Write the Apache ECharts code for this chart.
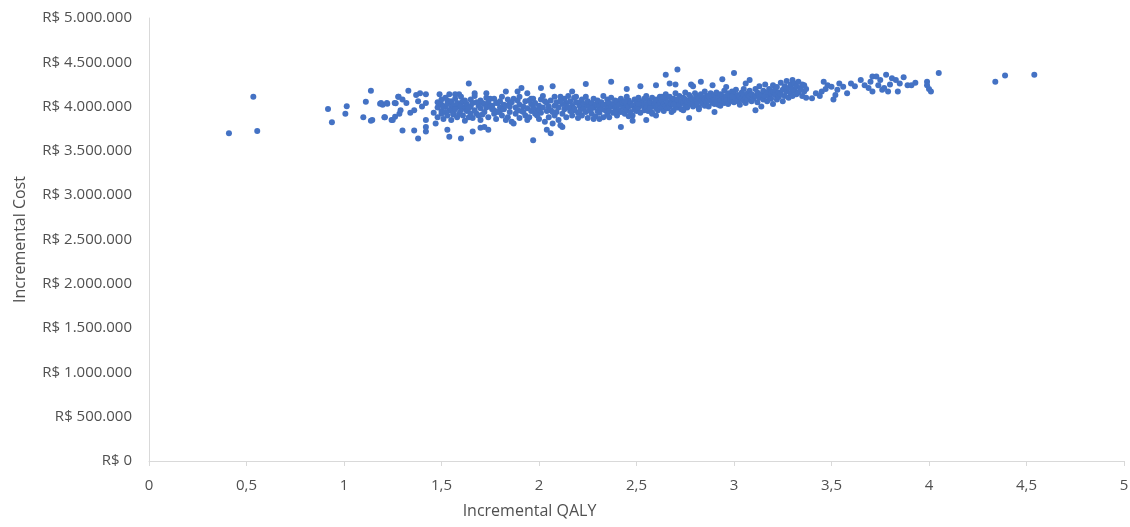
<!DOCTYPE html>
<html>
<head>
<meta charset="utf-8">
<script src="https://cdn.jsdelivr.net/npm/echarts@6/dist/echarts.min.js"></script>
<style>
  html, body { margin: 0; padding: 0; background: #fff; }
  #chart { width: 1130px; height: 527px; }
</style>
</head>
<body>
<div id="chart"></div>
<script>
// x ticks (QALY) and y ticks (R$)
const qalyTicks = [0, 0.5, 1, 1.5, 2, 2.5, 3, 3.5, 4, 4.5, 5]
const costTicks = [0, 500000, 1000000, 1500000, 2000000, 2500000, 3000000, 3500000, 4000000, 4500000, 5000000]

// simulations: [incremental QALY, incremental cost in R$ thousands]
const lowQalyRuns = [
  [0.41, 3699], [0.535, 4112], [0.555, 3725], [0.918, 3973], [0.938, 3823], [1.014, 4003], [1.007, 3920],
  [1.138, 4180], [1.112, 4055], [1.185, 4033], [1.198, 4020], [1.222, 4033], [1.099, 3880], [1.138, 3840],
  [1.145, 3850], [1.207, 3880], [1.244, 3850], [1.265, 4037], [1.262, 3886], [1.278, 4110], [1.284, 3920],
  [1.19, 4040], [1.22, 4040], [1.21, 3880], [1.26, 4040], [1.28, 4110], [1.29, 3960], [1.30, 4080],
  [1.33, 4180], [1.32, 4040], [1.34, 3930], [1.36, 3960], [1.37, 4130], [1.38, 4060], [1.39, 4150],
  [1.40, 4000], [1.42, 4040], [1.42, 4140], [1.42, 3850], [1.25, 3850], [1.30, 3730], [1.36, 3730],
  [1.38, 3640], [1.42, 3770], [1.42, 3720], [1.46, 3930], [1.47, 3810], [1.49, 4140], [1.49, 4020],
  [1.50, 3920], [1.52, 4000], [1.53, 4070], [1.54, 4140], [1.54, 3960], [1.55, 4040], [1.56, 3910],
  [1.58, 4000], [1.59, 4140], [1.60, 4040], [1.60, 3640], [1.54, 3660], [1.53, 3740], [1.64, 4260],
  [1.66, 3720], [1.67, 4150], [1.68, 3920], [1.70, 3760], [1.72, 3770], [1.74, 3740], [1.71, 4040],
  [1.75, 4090], [1.77, 3960], [1.79, 4040], [1.83, 4170], [1.85, 4040], [1.87, 3810], [1.89, 4170],
  [1.91, 4210], [1.94, 4150], [1.96, 4090], [1.97, 3620], [1.99, 3960], [2.01, 4210], [2.04, 3740],
  [2.06, 3700], [2.07, 4230], [2.07, 3810], [2.11, 4110], [2.12, 3770], [2.14, 4040], [2.17, 4170],
  [2.18, 3960], [2.19, 4110]
]

const midQalyRuns = [
  [1.48, 3990], [1.48, 4050], [1.48, 3880], [1.50, 4020], [1.50, 3950], [1.50, 4080], [1.51, 3860], [1.51, 4000],
  [1.52, 3940], [1.52, 4100], [1.53, 4030], [1.53, 3900], [1.55, 3980], [1.55, 4060], [1.55, 3850], [1.56, 4010],
  [1.56, 3930], [1.57, 4090], [1.57, 3970], [1.58, 3880], [1.58, 4040], [1.60, 3960], [1.60, 4010], [1.60, 4110],
  [1.61, 3900], [1.61, 4060], [1.62, 3990], [1.62, 3840], [1.63, 4030], [1.63, 3950], [1.65, 4080], [1.65, 3920],
  [1.65, 4000], [1.66, 3870], [1.66, 4040], [1.67, 3960], [1.67, 4120], [1.69, 4010], [1.69, 3900], [1.70, 3980],
  [1.70, 4070], [1.70, 3850], [1.72, 4030], [1.72, 3940], [1.73, 3990], [1.73, 4100], [1.74, 3880], [1.74, 4050],
  [1.76, 3970], [1.76, 4010], [1.77, 3920], [1.77, 4090], [1.78, 4040], [1.78, 3860], [1.80, 3990], [1.80, 3950],
  [1.80, 4060], [1.81, 4110], [1.81, 3900], [1.82, 4020], [1.82, 3970], [1.84, 3880], [1.84, 4080], [1.85, 3940],
  [1.85, 4000], [1.86, 4050], [1.86, 3830], [1.88, 3990], [1.88, 3920], [1.89, 4070], [1.89, 3960], [1.90, 4020],
  [1.90, 3870], [1.90, 4110], [1.92, 3940], [1.92, 4000], [1.93, 4060], [1.93, 3900], [1.94, 3980], [1.94, 3850],
  [1.96, 4030], [1.96, 3950], [1.97, 4090], [1.97, 3990], [1.98, 3920], [1.98, 4040], [2.00, 3970], [2.00, 4010],
  [2.00, 3860], [2.01, 4080], [2.01, 3930], [2.02, 3990], [2.02, 4120], [2.04, 3950], [2.04, 4040], [2.05, 3880],
  [2.05, 4000], [2.06, 4070], [2.06, 3960], [2.08, 4010], [2.08, 3900], [2.08, 4110], [2.09, 3940], [2.09, 4050],
  [2.10, 3990], [2.10, 3850], [2.12, 4030], [2.12, 3920], [2.13, 4090], [2.13, 3970], [2.14, 3880], [2.14, 4000],
  [2.16, 4060], [2.16, 3950], [2.17, 4010], [2.17, 3900], [2.18, 3980], [2.18, 4100], [2.20, 4040], [2.20, 3930],
  [2.20, 3870],
  [1.59, 3920], [1.62, 4070], [1.64, 3980], [1.68, 4050], [1.71, 3910], [1.75, 4000], [1.79, 3940], [1.83, 4010],
  [1.87, 4090], [1.91, 3950], [1.95, 4070], [1.99, 3900], [2.03, 4060], [2.07, 3940], [2.11, 4060], [2.15, 3990],
  [2.19, 4050], [1.64, 3880], [1.73, 4150], [1.83, 3850], [1.95, 3880], [2.03, 3830], [2.15, 4120], [1.57, 4140],
  [2.21, 3950], [2.21, 4050], [2.21, 4000], [2.22, 3900], [2.22, 4080], [2.23, 3980], [2.23, 4030], [2.24, 4110],
  [2.24, 3940], [2.25, 4010], [2.25, 3870], [2.25, 4060], [2.26, 3960], [2.26, 4000], [2.27, 4040], [2.27, 3920],
  [2.28, 4090], [2.28, 3990], [2.29, 3890], [2.29, 4020], [2.30, 3950], [2.30, 4070], [2.30, 4010], [2.31, 4000],
  [2.31, 3930], [2.32, 4050], [2.32, 3970], [2.33, 3880], [2.33, 4120], [2.34, 4020], [2.34, 3960], [2.35, 3990],
  [2.35, 4080], [2.35, 3910], [2.36, 4040], [2.36, 3950], [2.37, 4000], [2.37, 4100], [2.38, 3930], [2.38, 4030],
  [2.39, 4070], [2.39, 3980], [2.40, 4010], [2.40, 3900], [2.40, 4060], [2.41, 3960], [2.41, 4020], [2.42, 4090],
  [2.42, 3940], [2.43, 4000], [2.43, 4050], [2.44, 3920], [2.44, 3980], [2.45, 4030], [2.45, 4110], [2.45, 3960],
  [2.46, 4070], [2.46, 4000], [2.47, 3940], [2.47, 4040], [2.48, 4010], [2.48, 3900], [2.49, 4080], [2.49, 3970],
  [2.50, 4020], [2.50, 4050], [2.50, 3950], [2.51, 3990], [2.51, 4100], [2.52, 4060], [2.52, 3930], [2.53, 4010],
  [2.53, 4040], [2.54, 3960], [2.54, 4090], [2.55, 4030], [2.55, 3990], [2.55, 4120], [2.56, 4070], [2.56, 3950],
  [2.57, 4000], [2.57, 4050], [2.58, 3930], [2.58, 4100], [2.59, 4040], [2.59, 4010], [2.60, 3980], [2.60, 4080],
  [2.60, 4060], [2.61, 4020], [2.61, 3960], [2.62, 4110], [2.62, 4040], [2.63, 3990], [2.63, 4070], [2.64, 4030],
  [2.64, 3950], [2.65, 4090], [2.65, 4010], [2.65, 4140], [2.66, 4050], [2.66, 3980], [2.67, 4000], [2.67, 4110],
  [2.68, 4070], [2.68, 4030], [2.69, 3960], [2.69, 4090], [2.70, 4040], [2.70, 4010], [2.70, 4150], [2.71, 4080],
  [2.71, 3990], [2.72, 4020], [2.72, 4120], [2.73, 4060], [2.73, 3970], [2.74, 4100], [2.74, 4040], [2.75, 4010],
  [2.75, 4080], [2.75, 4160], [2.76, 4050], [2.76, 3990], [2.77, 4130], [2.77, 4070], [2.78, 4030], [2.78, 4100],
  [2.79, 4080], [2.79, 4000], [2.80, 4050], [2.80, 4150], [2.80, 4020], [2.81, 4110], [2.81, 4070], [2.82, 3990],
  [2.82, 4090], [2.83, 4060], [2.83, 4140], [2.84, 4030], [2.84, 4100], [2.85, 4080], [2.85, 4170], [2.85, 4010],
  [2.86, 4120], [2.86, 4050], [2.87, 4070], [2.87, 4000], [2.88, 4150], [2.88, 4090], [2.89, 4040], [2.89, 4110],
  [2.90, 4080], [2.90, 4130], [2.90, 4030], [2.91, 4160], [2.91, 4060], [2.92, 4100], [2.92, 4020], [2.93, 4070],
  [2.93, 4140], [2.94, 4120], [2.94, 4050], [2.95, 4090], [2.95, 4180], [2.95, 4040], [2.96, 4110], [2.96, 4070],
  [2.97, 4150], [2.97, 4030], [2.98, 4080], [2.98, 4120], [2.99, 4060], [2.99, 4170], [3.00, 4100], [3.00, 4050],
  [3.00, 4140], [3.01, 4080], [3.01, 4190], [3.02, 4130], [3.02, 4060], [3.03, 4110], [3.03, 4020], [3.04, 4160],
  [3.04, 4090], [3.05, 4070], [3.05, 4130], [3.05, 4200], [3.06, 4100], [3.06, 4040], [3.07, 4150], [3.07, 4080],
  [3.08, 4120], [3.08, 4180], [3.09, 4060], [3.09, 4140], [3.10, 4100], [3.10, 4090],
  [2.27, 3980], [2.33, 4020], [2.39, 3940], [2.44, 4060], [2.51, 4030], [2.57, 3980], [2.63, 4110], [2.69, 4020],
  [2.74, 3960], [2.81, 4030], [2.87, 4120], [2.93, 4010], [2.99, 4110], [2.28, 3860], [2.36, 3880], [2.46, 3890],
  [2.58, 3920], [2.68, 3940], [2.82, 3970],
  [2.24, 4255], [2.37, 4280], [2.42, 3770], [2.11, 3790], [2.65, 4360], [2.71, 4420], [2.67, 4260], [2.77, 3870],
  [2.83, 4280], [2.94, 4310], [3.00, 4380], [3.06, 4260], [3.08, 4300], [3.11, 3960], [2.55, 3850], [2.31, 3860],
  [2.48, 3840], [2.60, 3900], [2.90, 3940], [2.52, 4230], [2.78, 4250], [2.45, 4200], [2.60, 4240], [2.70, 4250],
  [2.79, 4230], [2.89, 4240], [2.96, 4220]
]

const highQalyRuns = [
  [3.11, 4120], [3.11, 4200], [3.12, 4050], [3.12, 4160], [3.13, 4230], [3.13, 4100], [3.14, 4140], [3.14, 4000],
  [3.15, 4180], [3.15, 4080], [3.16, 4120], [3.16, 4250], [3.17, 4160], [3.17, 4060], [3.18, 4200], [3.18, 4110],
  [3.19, 4090], [3.19, 4150], [3.20, 4240], [3.20, 4170], [3.20, 4030], [3.21, 4130], [3.21, 4190], [3.22, 4080],
  [3.22, 4220], [3.23, 4160], [3.23, 4110], [3.24, 4270], [3.24, 4140], [3.25, 4190], [3.25, 4060], [3.26, 4120],
  [3.26, 4230], [3.27, 4170], [3.27, 4290], [3.28, 4210], [3.28, 4100], [3.29, 4150], [3.29, 4250], [3.30, 4200],
  [3.30, 4300], [3.30, 4120], [3.31, 4180], [3.31, 4260], [3.32, 4230], [3.32, 4140], [3.33, 4160], [3.33, 4280],
  [3.34, 4210], [3.34, 4190], [3.35, 4120], [3.35, 4250], [3.36, 4240], [3.36, 4170], [3.37, 4200], [3.37, 4100],
  [3.40, 4093], [3.42, 4150], [3.45, 4170], [3.46, 4280], [3.48, 4240], [3.50, 4225], [3.51, 4080], [3.53, 4190],
  [3.54, 4260], [3.56, 4225], [3.58, 4150], [3.60, 4260], [3.65, 4300], [3.67, 4240], [3.69, 4210], [3.71, 4340],
  [3.71, 4170], [3.73, 4340], [3.74, 4240], [3.77, 4210], [3.78, 4360], [3.79, 4170], [3.81, 4320], [3.83, 4300],
  [3.84, 4170], [3.85, 4260], [3.89, 4240], [3.91, 4240], [3.44, 4120], [3.47, 4200], [3.52, 4130], [3.62, 4230],
  [3.70, 4280], [3.75, 4300], [3.80, 4250], [3.87, 4330], [3.93, 4270], [3.76, 4190],
  [3.99, 4280], [3.99, 4240], [4.00, 4200], [4.01, 4170], [4.05, 4380], [4.34, 4280], [4.39, 4350], [4.54, 4360]
]

const simulations = lowQalyRuns.concat(midQalyRuns, highQalyRuns).map(p => [p[0], p[1] * 1000])

function formatCost(v) {
  return 'R$ ' + String(Math.round(v)).replace(/\B(?=(\d{3})+(?!\d))/g, '.')
}

const chart = echarts.init(document.getElementById('chart'))
const axisGray = '#d9d9d9'
const textGray = '#505050'
const font = 'Open Sans'

chart.setOption({
  animation: false,
  grid: { left: 149, right: 6, top: 18, bottom: 66, containLabel: false, outerBoundsMode: 'none' },
  xAxis: {
    type: 'value',
    min: qalyTicks[0],
    max: qalyTicks[qalyTicks.length - 1],
    interval: 0.5,
    name: 'Incremental QALY',
    nameLocation: 'middle',
    nameGap: 42,
    nameTextStyle: { color: textGray, fontFamily: font, fontSize: 16, padding: [0, 214, 0, 0] },
    splitLine: { show: false },
    axisLine: { lineStyle: { color: axisGray } },
    axisTick: { show: true, length: 5, lineStyle: { color: axisGray } },
    axisLabel: {
      color: textGray, fontFamily: font, fontSize: 15, margin: 17,
      formatter: v => String(v).replace('.', ',')
    }
  },
  yAxis: {
    type: 'value',
    min: costTicks[0],
    max: costTicks[costTicks.length - 1],
    interval: 500000,
    name: 'Incremental Cost',
    nameLocation: 'middle',
    nameGap: 121,
    nameTextStyle: { color: textGray, fontFamily: font, fontSize: 16 },
    splitLine: { show: false },
    axisLine: { show: true, lineStyle: { color: axisGray } },
    axisTick: { show: false },
    axisLabel: { color: textGray, fontFamily: font, fontSize: 15, margin: 17, formatter: formatCost }
  },
  series: [{
    type: 'scatter',
    data: simulations,
    symbolSize: 6,
    itemStyle: { color: '#4472c4', opacity: 1 }
  }]
})
</script>
</body>
</html>
